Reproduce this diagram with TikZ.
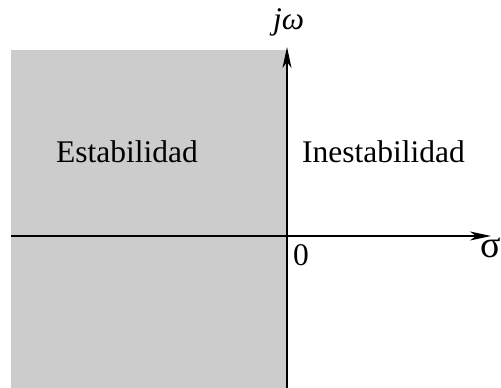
\documentclass[tikz,border=0pt]{standalone}
\usepackage{fontspec}
\setmainfont{Liberation Serif}
\usetikzlibrary{arrows.meta}
\definecolor{regiongray}{RGB}{204,204,204}
\begin{document}
\begin{tikzpicture}[x=1pt,y=1pt,
  axisline/.style={line width=1.3pt,-{Stealth[length=21pt,width=9pt,inset=6pt]}},
  lbl/.style={inner sep=0pt,anchor=base west,font=\fontsize{31.5}{36}\selectfont}]
\useasboundingbox (0,0) rectangle (501,388);
\fill[regiongray] (11,0) rectangle (287,338);
\coordinate (hstart) at (11,152);
\coordinate (hend) at (491,152);
\coordinate (vstart) at (287,0);
\coordinate (vend) at (287,341);
\draw[axisline] (hstart) -- (hend);
\draw[axisline] (vstart) -- (vend);
\node[lbl] (est) at (56,225) {Estabilidad};
\node[lbl] (inest) at (302,225) {Inestabilidad};
\node[lbl] (zero) at (293,122) {0};
\node[lbl,font=\fontsize{38}{42}\selectfont] (sigma) at (480,130) {σ};
\node[lbl] (jw) at (273,358) {\itshape jω};
\end{tikzpicture}
\end{document}
